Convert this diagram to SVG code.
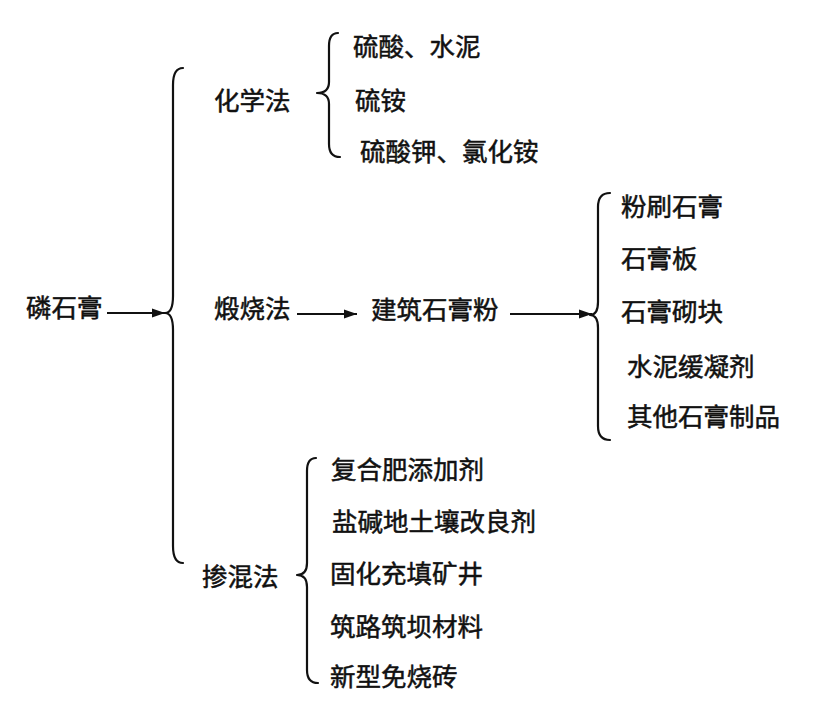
<svg xmlns="http://www.w3.org/2000/svg" width="826" height="707" viewBox="0 0 826 707">
<defs>
<style>
.t{font-family:"Noto Sans CJK SC","Noto Sans CJK JP",sans-serif;font-size:25.5px;fill:#111;stroke:#111;stroke-width:0.5;}
.b{fill:none;stroke:#111;stroke-width:2.2;stroke-linecap:round;stroke-linejoin:round;}
.a{fill:none;stroke:#111;stroke-width:2;}
</style>
<marker id="ah" markerUnits="userSpaceOnUse" markerWidth="14" markerHeight="10" refX="13" refY="5" orient="auto">
<path d="M0,0.5 L13,5 L0,9.5 z" fill="#111"/>
</marker>
</defs>
<rect width="826" height="707" fill="#fff"/>
<g id="root"><text class="t" x="26" y="317">磷石膏</text></g>
<g id="chem"><text class="t" x="214" y="110">化学法</text></g>
<g id="calc"><text class="t" x="214" y="318">煅烧法</text></g>
<g id="mix"><text class="t" x="202" y="586">掺混法</text></g>
<g id="c1"><text class="t" x="353" y="56">硫酸、水泥</text></g>
<g id="c2"><text class="t" x="355" y="110">硫铵</text></g>
<g id="c3"><text class="t" x="360" y="161">硫酸钾、氯化铵</text></g>
<g id="gyp"><text class="t" x="371" y="319">建筑石膏粉</text></g>
<g id="g1"><text class="t" x="621" y="216">粉刷石膏</text></g>
<g id="g2"><text class="t" x="621" y="268">石膏板</text></g>
<g id="g3"><text class="t" x="621" y="321">石膏砌块</text></g>
<g id="g4"><text class="t" x="627" y="376">水泥缓凝剂</text></g>
<g id="g5"><text class="t" x="627" y="426">其他石膏制品</text></g>
<g id="m1"><text class="t" x="331" y="479">复合肥添加剂</text></g>
<g id="m2"><text class="t" x="332" y="531">盐碱地土壤改良剂</text></g>
<g id="m3"><text class="t" x="330" y="583">固化充填矿井</text></g>
<g id="m4"><text class="t" x="330" y="636">筑路筑坝材料</text></g>
<g id="m5"><text class="t" x="330" y="686">新型免烧砖</text></g>
<g id="connectors">
<path class="b" d="M183,68 Q173,68 173,85 L173,296 Q173,313 165,313 Q173,313 173,330 L173,546 Q173,563 183,563"/>
<path class="b" d="M338,33 Q329,33 329,46 L329,82 Q329,93 317,93 Q329,93 329,104 L329,144 Q329,157 340,157"/>
<path class="b" d="M610,193 Q598,193 598,207 L598,302 Q598,315 590,315 Q598,315 598,328 L598,426 Q598,440 610,440"/>
<path class="b" d="M316,458 Q307,458 307,471 L307,563 Q307,575 297,575 Q307,575 307,587 L307,670 Q307,683 318,683"/>
<line class="a" x1="107" y1="313" x2="165" y2="313" marker-end="url(#ah)"/>
<line class="a" x1="297" y1="314" x2="357" y2="314" marker-end="url(#ah)"/>
<line class="a" x1="510" y1="314" x2="592" y2="314" marker-end="url(#ah)"/>
</g>
</svg>
